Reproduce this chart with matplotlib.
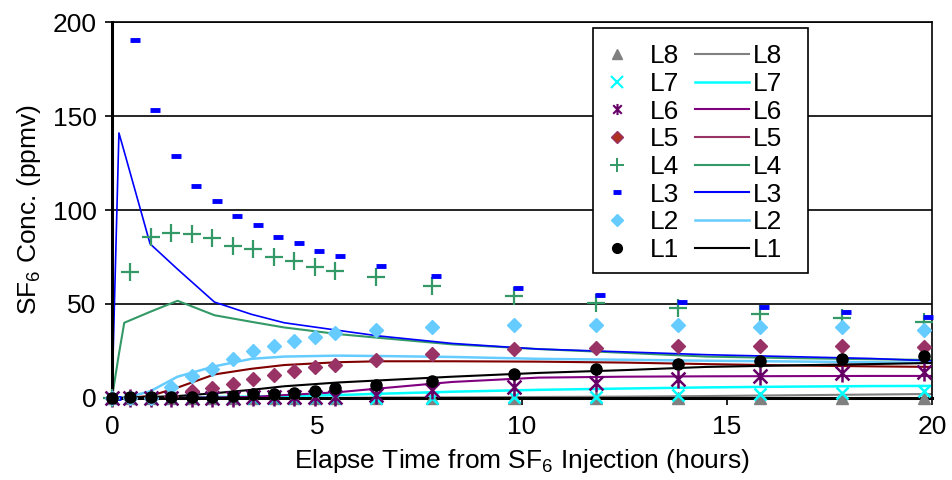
import numpy as np
import matplotlib
matplotlib.use("Agg")
import matplotlib.pyplot as plt
from matplotlib.lines import Line2D
from matplotlib.patches import Rectangle
from matplotlib.path import Path

plt.rcParams['font.family'] = ['Liberation Sans', 'DejaVu Sans']
plt.rcParams['mathtext.fontset'] = 'custom'
plt.rcParams['mathtext.rm'] = 'Liberation Sans'
plt.rcParams['mathtext.it'] = 'Liberation Sans'

# measured data (hours)
t_obs = [0, 0.45, 0.95, 1.45, 1.95, 2.45, 2.95, 3.45, 3.95, 4.45, 4.95, 5.45,
         6.45, 7.8, 9.8, 11.8, 13.8, 15.8, 17.8, 19.8]
t_obs3 = [0.1, 0.55, 1.05, 1.55, 2.05, 2.55, 3.05, 3.55, 4.05, 4.55, 5.05, 5.55,
          6.55, 7.9, 9.9, 11.9, 13.9, 15.9, 17.9, 19.9]

obs_L1 = [0, 0.7, 0.7, 0.7, 0.7, 0.7, 1.0, 2.1, 2.1, 2.7, 3.5, 5.3, 6.9, 9.2, 12.8, 15.5, 18.0, 19.9, 20.6, 22.4]
obs_L2 = [0, 0, 0, 6.0, 11.7, 15.6, 20.8, 25.0, 27.6, 30.3, 32.5, 34.5, 36.2, 38.0, 38.6, 38.6, 38.7, 37.6, 37.6, 36.2]
obs_L3 = [0, 190.5, 153, 129, 113, 105, 97, 92, 85.6, 82.5, 78, 75.5, 70, 65, 58.5, 54.8, 51, 48.4, 45.8, 43]
obs_L4 = [0, 67, 85.6, 88, 87, 85, 81, 79, 75, 73, 69.7, 67.6, 64.5, 59.6, 54, 50.5, 47.8, 44.7, 42.6, 40.4]
obs_L5 = [0, 0, 0, 1.0, 3.5, 5.3, 7.4, 10.3, 12.2, 14.2, 16.5, 17.6, 20.0, 23.4, 26.0, 26.6, 27.7, 27.7, 27.7, 27.0]
obs_L6 = [0, 0, 0, 0, 0, 0, 0, 0.3, 0.3, 0.3, 0.5, 0.5, 1.6, 4.3, 5.8, 8.0, 10.0, 11.7, 13.3, 13.9]
obs_L7 = [0, 0, 0, 0, 0, 0, 0, 0, 0, 0, 0, 0, 0, 0, 0.3, 0.7, 1.6, 2.1, 2.8, 3.9]
obs_L8 = [0, 0, 0, 0, 0, 0, 0, 0, 0, 0, 0, 0, 0, 0, 0, 0, 0, 0, 0, 0]

# model curves
t_mod = [0, 0.17, 0.3, 0.93, 1.6, 2.5, 3.4, 4.2, 5.5, 6.5, 8.3, 10.4, 12.5, 14.5, 16.5, 18.5, 20]
mod_L1 = [0, 0, 0, 0.5, 1.0, 2.5, 4.3, 6.2, 8.2, 9.3, 11.3, 13.3, 14.8, 16.5, 17.3, 18.0, 18.6]
mod_L2 = [0, 0, 0, 3.5, 11.3, 16.8, 20.8, 22.0, 22.5, 22.3, 21.8, 20.8, 20.3, 19.8, 19.4, 19.0, 18.6]
mod_L3 = [0, 141, 131, 82, 68.5, 51, 44.5, 40, 36, 33, 29, 26, 24.5, 23, 22, 21, 19.7]
mod_L4 = [0, 23.4, 40, 45.8, 51.7, 44, 40.5, 37.5, 34, 32, 28.5, 26, 24, 22, 21.2, 20.6, 20.2]
mod_L5 = [0, 0, 0, 1.0, 5.5, 12.5, 15.5, 17.5, 19.0, 19.5, 19.5, 19.3, 18.8, 18.0, 17.3, 16.8, 16.5]
mod_L6 = [0, 0, 0, 0, 0.2, 0.3, 0.5, 1.5, 3.0, 5.0, 8.5, 10.8, 11.3, 11.5, 11.6, 11.7, 11.7]
mod_L7 = [0, 0, 0, 0, 0, 0.5, 0.7, 1.0, 1.5, 2.2, 3.3, 4.3, 5.0, 5.6, 6.0, 6.3, 6.4]
mod_L8 = [0, 0, 0, 0, 0, 0, 0, 0, 0, 0.2, 0.3, 0.5, 0.7, 1.0, 1.4, 1.8, 2.1]

labels = ['L8', 'L7', 'L6', 'L5', 'L4', 'L3', 'L2', 'L1']

# asterisk like the excel one: an x with a vertical bar
star = Path([(-1, -1), (1, 1), (-1, 1), (1, -1), (0, -1.3), (0, 1.3)],
            [Path.MOVETO, Path.LINETO, Path.MOVETO, Path.LINETO, Path.MOVETO, Path.LINETO])

fig = plt.figure(figsize=(9.52, 4.8), dpi=100)
ax = fig.add_axes([0.1176, 0.171, 0.8614, 0.783])

# model lines
ax.plot(t_mod, mod_L8, color='#808080', lw=1.5, zorder=2)
ax.plot(t_mod, mod_L7, color='#00FFFF', lw=1.8, zorder=2)
ax.plot(t_mod, mod_L6, color='#800080', lw=1.5, zorder=2)
ax.plot(t_mod, mod_L5, color='#800000', lw=1.5, zorder=2)
ax.plot(t_mod, mod_L4, color='#339966', lw=1.5, zorder=2)
ax.plot(t_mod, mod_L3, color='#0000FF', lw=1.2, zorder=2)
ax.plot(t_mod, mod_L2, color='#66CCFF', lw=1.8, zorder=2)
ax.plot(t_mod, mod_L1, color='black', lw=1.5, zorder=2)

# measured points
kw = dict(ls='none', clip_on=False, zorder=3)
ax.plot(t_obs, obs_L8, marker='^', ms=8, color='#808080', mec='#808080', **kw)
ax.plot(t_obs, obs_L7, marker='x', ms=9, mew=1.8, color='#00FFFF', **kw)
ax.plot(t_obs, obs_L6, marker=star, ms=13, mew=1.8, color='#660066', **kw)
ax.plot(t_obs, obs_L5, marker='D', ms=7, color='#993366', mec='#993366', **kw)
ax.plot(t_obs, obs_L4, marker='+', ms=13, mew=1.6, color='#339966', **kw)
ax.plot(t_obs3, obs_L3, marker='_', ms=7, mew=3.5, color='#0000FF', **kw)
ax.plot(t_obs, obs_L2, marker='D', ms=7, color='#66CCFF', mec='#66CCFF', **kw)
ax.plot(t_obs, obs_L1, marker='o', ms=8, color='black', **kw)

ax.set_xlim(0, 20)
ax.set_ylim(0, 200)
ax.set_xticks([0, 5, 10, 15, 20])
ax.set_yticks([0, 50, 100, 150, 200])
ax.yaxis.grid(True, color='black', lw=1.2)
ax.set_axisbelow(True)
ax.tick_params(labelsize=19, direction='out', length=5, width=1.2)
ax.tick_params(axis='x', pad=7)
ax.tick_params(axis='y', pad=6)
for s in ['top', 'right']:
    ax.spines[s].set_linewidth(1.2)
ax.spines['left'].set_linewidth(2.2)
ax.spines['bottom'].set_linewidth(2.2)

ax.set_xlabel('Elapse Time from SF$_\\mathregular{6}$ Injection (hours)', fontsize=19, labelpad=6)
ax.set_ylabel('SF$_\\mathregular{6}$ Conc. (ppmv)', fontsize=19, labelpad=7)

# legend: one box holding a marker column and a line column
mk_handles = [
    Line2D([], [], ls='none', marker='^', ms=7, color='#808080'),
    Line2D([], [], ls='none', marker='x', ms=8, mew=1.5, color='#00FFFF'),
    Line2D([], [], ls='none', marker=star, ms=8, mew=1.5, color='#660066'),
    Line2D([], [], ls='none', marker='D', ms=6, color='#B03020', mec='#993366'),
    Line2D([], [], ls='none', marker='+', ms=10, mew=1.4, color='#339966'),
    Line2D([], [], ls='none', marker='_', ms=6, mew=3.5, color='#0000FF'),
    Line2D([], [], ls='none', marker='D', ms=6, color='#66CCFF'),
    Line2D([], [], ls='none', marker='o', ms=7, color='black'),
]
ln_handles = [
    Line2D([], [], color='#808080', lw=1.5),
    Line2D([], [], color='#00FFFF', lw=1.8),
    Line2D([], [], color='#800080', lw=1.5),
    Line2D([], [], color='#993366', lw=1.5),
    Line2D([], [], color='#339966', lw=1.5),
    Line2D([], [], color='#0000FF', lw=1.5),
    Line2D([], [], color='#66CCFF', lw=1.8),
    Line2D([], [], color='black', lw=1.5),
]
box = Rectangle((0.5866, 0.332), 0.2622, 0.652, transform=ax.transAxes,
                facecolor='white', edgecolor='black', lw=1.2, zorder=5)
ax.add_patch(box)
leg_kw = dict(loc='upper left', borderaxespad=0, borderpad=0, fontsize=19,
              frameon=False, labelspacing=0.14)
leg1 = ax.legend(mk_handles, labels, bbox_to_anchor=(0.5976, 0.941),
                 handlelength=1.14, handletextpad=0.68, **leg_kw)
leg1.set_zorder(6)
ax.add_artist(leg1)
leg2 = ax.legend(ln_handles, labels, bbox_to_anchor=(0.711, 0.941),
                 handlelength=2.05, handletextpad=0.16, **leg_kw)
leg2.set_zorder(6)

fig.savefig('out.png', dpi=100)
